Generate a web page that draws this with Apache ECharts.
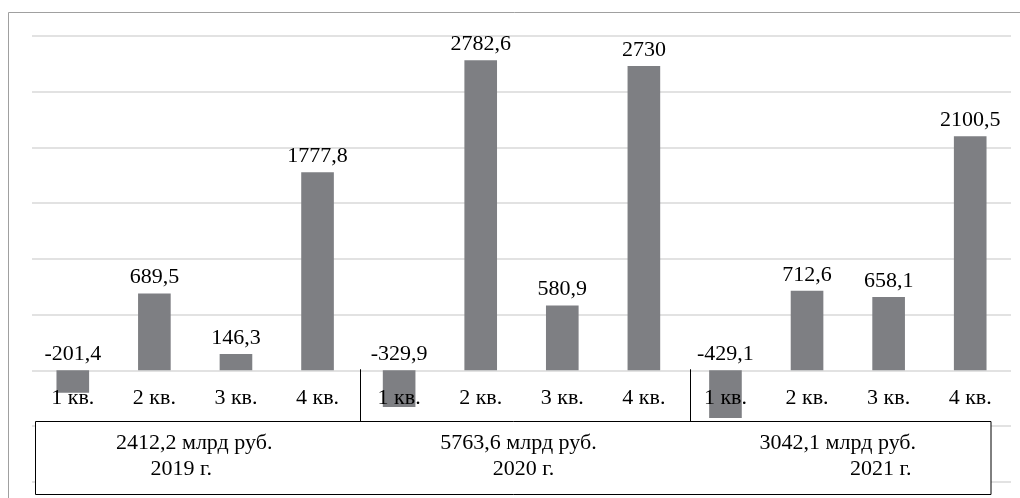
<!DOCTYPE html>
<html>
<head>
<meta charset="utf-8">
<script src="https://cdn.jsdelivr.net/npm/echarts@6/dist/echarts.min.js"></script>
<style>
  html, body { margin: 0; padding: 0; background: #ffffff; }
  #chart { width: 1020px; height: 498px; }
</style>
</head>
<body>
<div id="chart"></div>
<script>
// Quarterly values, billion rubles
const quarters = ['1 кв.', '2 кв.', '3 кв.', '4 кв.', '1 кв.', '2 кв.', '3 кв.', '4 кв.', '1 кв.', '2 кв.', '3 кв.', '4 кв.'];
const values = [-201.4, 689.5, 146.3, 1777.8, -329.9, 2782.6, 580.9, 2730, -429.1, 712.6, 658.1, 2100.5];
// Yearly totals and year captions shown under each group of four quarters
const yearTotals = ['2412,2 млрд руб.', '5763,6 млрд руб.', '3042,1 млрд руб.'];
const yearNames = ['2019 г.', '2020 г.', '2021 г.'];
// Value axis range and step
const yMin = -1000;
const yMax = 3000;
const yStep = 500;

const FONT = 'Liberation Serif';
const GRID_TOP = 36, GRID_BOTTOM = 16.3, HEIGHT = 498;
// lift the category axis from the grid bottom up to the zero line
const plotHeight = HEIGHT - GRID_TOP - GRID_BOTTOM;
const zeroOffset = -plotHeight * (0 - yMin) / (yMax - yMin);

const chart = echarts.init(document.getElementById('chart'), null, { renderer: 'canvas' });

const fmt = v => String(v).replace('.', ',');

chart.setOption({
  animation: false,
  backgroundColor: '#ffffff',
  grid: { left: 32, right: 9, top: GRID_TOP, bottom: GRID_BOTTOM, containLabel: false, outerBoundsMode: 'none' },
  xAxis: {
    type: 'category',
    data: quarters,
    position: 'bottom',
    offset: zeroOffset,
    z: 10,
    axisLine: { show: false, onZero: false },
    axisTick: { show: false },
    axisLabel: {
      show: true,
      color: '#000000',
      fontFamily: FONT,
      fontSize: 22,
      margin: 17,
      interval: 0
    },
    splitLine: { show: false }
  },
  yAxis: {
    type: 'value',
    min: yMin,
    max: yMax,
    interval: yStep,
    axisLine: { show: false },
    axisTick: { show: false },
    axisLabel: { show: false },
    splitLine: { show: true, lineStyle: { color: '#d9d9d9', width: 1.5 } }
  },
  series: [{
    type: 'bar',
    data: values,
    barWidth: '40%',
    itemStyle: { color: '#7e7f83' },
    label: {
      show: true,
      position: 'top',
      distance: 5,
      color: '#000000',
      fontFamily: FONT,
      fontSize: 22,
      formatter: p => fmt(p.value)
    }
  }]
});

// Year captions box below the quarter labels
function drawYearBox() {
  const px = i => chart.convertToPixel({ xAxisIndex: 0 }, i);
  const zeroY = chart.convertToPixel({ yAxisIndex: 0 }, 0);
  const boxTop = 421, boxBottom = 494, boxLeft = 35, boxRight = 990.5;
  const dividers = [360, 690];
  const line2Shift = [-14, 2, 33];
  const line1Shift = [-1, -3, -10];

  const elements = [
    // outer frame (left and top edges visible)
    {
      type: 'rect', silent: true, z: 0,
      shape: { x: 8.5, y: 12.5, width: 1200, height: 700 },
      style: { fill: 'none', stroke: '#a0a0a0', lineWidth: 1 }
    },
    {
      type: 'rect', silent: true, z: 20,
      shape: { x: boxLeft + 0.5, y: boxTop + 0.5, width: boxRight - boxLeft, height: boxBottom - boxTop },
      style: { fill: '#ffffff', stroke: '#000000', lineWidth: 1 }
    }
  ];
  dividers.forEach(x => {
    elements.push({
      type: 'line', silent: true, z: 20,
      shape: { x1: x + 0.5, y1: zeroY - 1, x2: x + 0.5, y2: boxTop },
      style: { stroke: '#000000', lineWidth: 1 }
    });
  });
  yearTotals.forEach((t, g) => {
    const cx = (px(4 * g + 1) + px(4 * g + 2)) / 2;
    elements.push({
      type: 'text', silent: true, z: 21,
      x: cx + line1Shift[g], y: 443,
      style: { text: t, fill: '#000000', fontSize: 22, fontFamily: FONT, align: 'center', verticalAlign: 'middle' }
    });
    elements.push({
      type: 'text', silent: true, z: 21,
      x: cx + line2Shift[g], y: 469.5,
      style: { text: yearNames[g], fill: '#000000', fontSize: 22, fontFamily: FONT, align: 'center', verticalAlign: 'middle' }
    });
  });
  chart.setOption({ graphic: { elements } });
}
drawYearBox();
</script>
</body>
</html>
